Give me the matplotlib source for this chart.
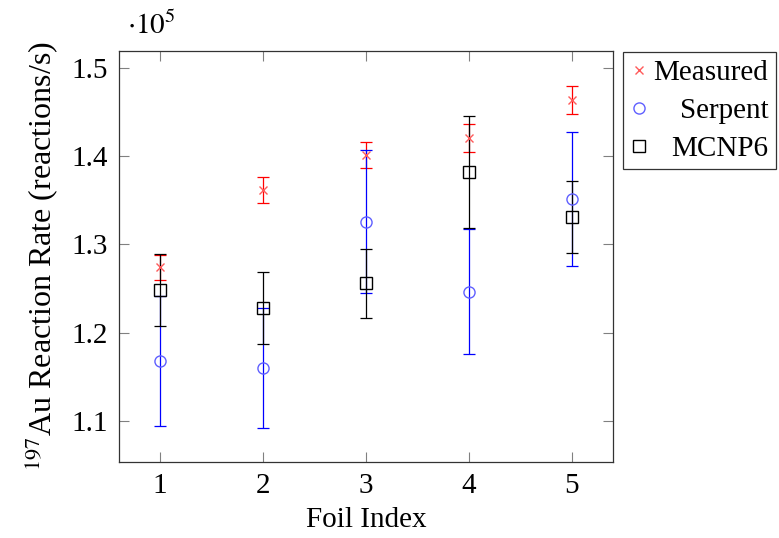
import matplotlib
matplotlib.use("Agg")
import matplotlib.pyplot as plt
from matplotlib.ticker import FuncFormatter, MultipleLocator

plt.rcParams["font.family"] = ["Liberation Serif", "DejaVu Serif"]
plt.rcParams["mathtext.fontset"] = "stix"

foil = [1, 2, 3, 4, 5]

measured = [127400, 136150, 140130, 142030, 146370]
measured_err = [1450, 1500, 1500, 1600, 1600]

serpent = [116800, 115990, 132570, 124640, 135150]
serpent_err = [7400, 6800, 8100, 7100, 7560]

mcnp6 = [124800, 122830, 125590, 138240, 133140]
mcnp6_err = [4100, 4100, 3900, 6350, 4100]

FS = 21

fig = plt.figure(figsize=(7.79, 5.38), dpi=100)
ax = fig.add_axes([0.1528, 0.1413, 0.787 - 0.1528, 0.905 - 0.1413])

ax.errorbar(foil, measured, yerr=measured_err, fmt="none", ecolor="#ff0000",
            elinewidth=0.9, capsize=4, capthick=0.9, zorder=2)
ax.errorbar(foil, serpent, yerr=serpent_err, fmt="none", ecolor="#0000ff",
            elinewidth=0.9, capsize=4, capthick=0.9, zorder=2)
ax.errorbar(foil, mcnp6, yerr=mcnp6_err, fmt="none", ecolor="#000000",
            elinewidth=0.9, capsize=4, capthick=0.9, zorder=2)

ax.plot(foil, measured, linestyle="none", marker="x", color="#ff5a5a",
        markersize=5.5, markeredgewidth=1.0, label="Measured", zorder=3)
ax.plot(foil, serpent, linestyle="none", marker="o", markerfacecolor="none",
        markeredgecolor="#5f5fff", markersize=8, markeredgewidth=1.0,
        label="Serpent", zorder=3)
ax.plot(foil, mcnp6, linestyle="none", marker="s", markerfacecolor="none",
        markeredgecolor="#000000", markersize=8, markeredgewidth=1.0,
        label="MCNP6", zorder=3)

ax.set_xlim(0.6, 5.4)
ax.set_ylim(105350, 151900)
ax.xaxis.set_major_locator(MultipleLocator(1))
ax.yaxis.set_major_locator(MultipleLocator(10000))
ax.yaxis.set_major_formatter(FuncFormatter(lambda v, p: f"{v / 1e5:.1f}"))

ax.tick_params(direction="in", top=True, right=True, length=7, width=0.8,
               color="#808080", labelsize=FS, pad=8)
for s in ax.spines.values():
    s.set_linewidth(0.9)
    s.set_color("#333333")

ax.set_xlabel("Foil Index", fontsize=FS, labelpad=6)
ax.set_ylabel(r"$^{197}$Au Reaction Rate (reactions/s)", fontsize=23, labelpad=8)

fig.text(0.163, 0.925, r"$\cdot 10^5$", fontsize=FS, ha="left", va="bottom")

leg = ax.legend(loc="upper left", bbox_to_anchor=(0.7997, 0.9033),
                bbox_transform=fig.transFigure, borderaxespad=0,
                fontsize=FS, frameon=True, fancybox=False, edgecolor="#000000",
                handlelength=0.6, handletextpad=0.2, borderpad=0.25,
                labelspacing=0.4)
leg.get_frame().set_linewidth(0.9)

# Right-align the legend labels while keeping the markers in one column
renderer = fig.canvas.get_renderer()
widths = [t.get_window_extent(renderer).width for t in leg.get_texts()]
wmax = max(widths)
px_to_pt = 72.0 / fig.dpi
for column in leg._legend_handle_box.get_children():
    for item, w in zip(column.get_children(), widths):
        item.sep = item.sep + (wmax - w) * px_to_pt

fig.savefig("out.png", dpi=100)
